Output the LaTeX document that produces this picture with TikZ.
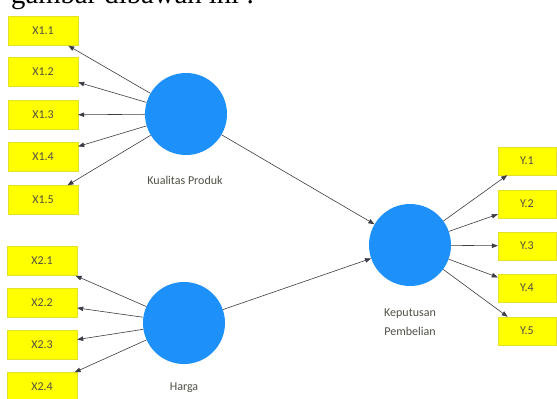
\documentclass[tikz,border=0pt]{standalone}
\usepackage{fontspec}
\setmainfont{Carlito}
\newfontfamily\serifface{Liberation Serif}
\usetikzlibrary{arrows.meta}
\definecolor{latent}{RGB}{30,144,250}
\definecolor{indic}{RGB}{255,255,0}
\definecolor{indicborder}{RGB}{225,225,40}
\definecolor{linkcol}{RGB}{60,60,70}
\definecolor{labelcol}{RGB}{80,80,70}
\tikzset{
  xbox/.style={rectangle, fill=indic, draw=indicborder, line width=0.4pt,
    minimum width=70pt, minimum height=29pt, inner sep=0pt,
    font=\fontsize{12}{13}\selectfont, text=labelcol},
  ybox/.style={xbox, minimum width=58pt, minimum height=28pt},
  latentnode/.style={circle, fill=latent, draw=none, minimum size=82pt, inner sep=0pt},
  latentlabel/.style={font=\fontsize{12}{19}\selectfont, text=labelcol, align=center},
  link/.style={draw=linkcol, line width=0.6pt, -{Triangle[length=6pt,width=4.5pt]}}
}
\begin{document}
\begin{tikzpicture}[x=1pt,y=-1pt]
\clip (0,0) rectangle (557,399);
\fill[white] (0,0) rectangle (557,399);
\node[anchor=base west, font=\serifface\fontsize{28.7}{30}\selectfont, inner sep=0pt] (title) at (11,3) {gambar dibawah ini :};

% indicators X1
\node[xbox] (x11) at (43,31) {X1.1};
\node[xbox] (x12) at (43,72) {X1.2};
\node[xbox] (x13) at (43,115) {X1.3};
\node[xbox] (x14) at (43,157) {X1.4};
\node[xbox] (x15) at (43,200) {X1.5};
% indicators X2
\node[xbox] (x21) at (42,261) {X2.1};
\node[xbox] (x22) at (42,303) {X2.2};
\node[xbox] (x23) at (42,345) {X2.3};
\node[xbox] (x24) at (42,387) {X2.4};
% indicators Y
\node[ybox] (y1) at (527,161) {Y.1};
\node[ybox] (y2) at (527,204) {Y.2};
\node[ybox] (y3) at (527,246) {Y.3};
\node[ybox] (y4) at (527,288) {Y.4};
\node[ybox] (y5) at (527,331) {Y.5};

% latent variables
\node[latentnode] (kp) at (186,114) {};
\node[latentnode] (hg) at (184,323) {};
\node[latentnode] (kb) at (410,245) {};
\node[latentlabel] (kpl) at (185,180) {Kualitas Produk};
\node[latentlabel] (hgl) at (184,388) {Harga};
\node[latentlabel] (kbl) at (410,322) {Keputusan\\Pembelian};

% outer loadings
\foreach \t in {x11,x12,x13,x14,x15} \draw[link] (kp) -- (\t);
\foreach \t in {x21,x22,x23,x24} \draw[link] (hg) -- (\t);
\foreach \t in {y1,y2,y3,y4,y5} \draw[link] (kb) -- (\t);
% structural paths
\draw[link] (kp) -- (kb);
\draw[link] (hg) -- (kb);
\end{tikzpicture}
\end{document}
